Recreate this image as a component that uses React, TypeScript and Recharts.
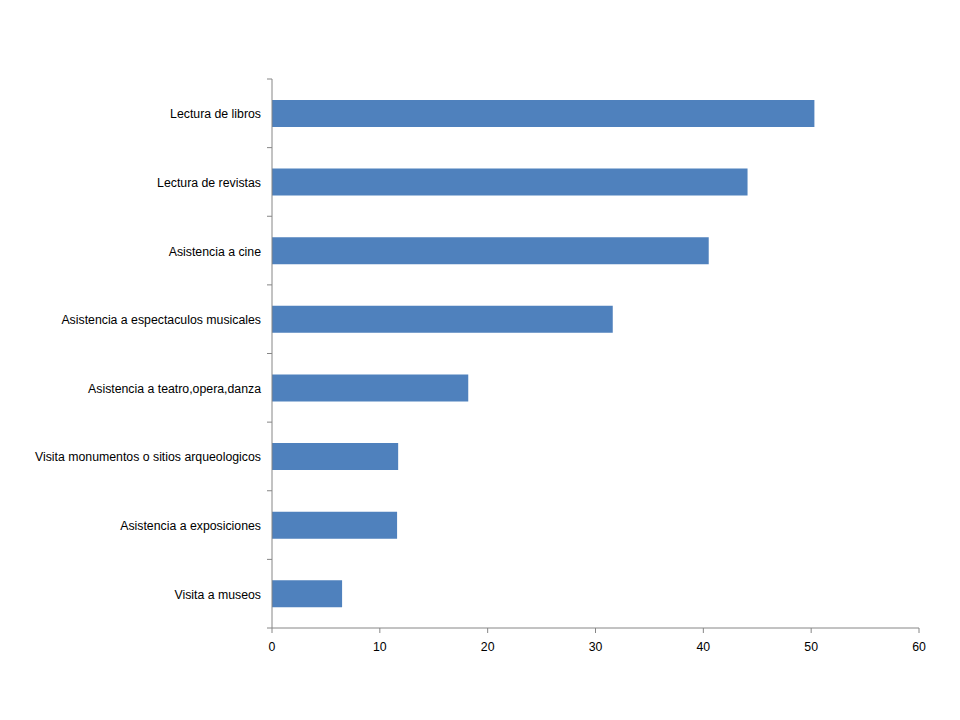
import React from "react";
import { BarChart, Bar, XAxis, YAxis } from "recharts";

const categories = [
  "Lectura de libros",
  "Lectura de revistas",
  "Asistencia a cine",
  "Asistencia a espectaculos musicales",
  "Asistencia a teatro,opera,danza",
  "Visita monumentos o sitios arqueologicos",
  "Asistencia a exposiciones",
  "Visita a museos",
];
const values = [50.3, 44.1, 40.5, 31.6, 18.2, 11.7, 11.6, 6.5];
const xTicks = [0, 10, 20, 30, 40, 50, 60];

const data = categories.map((name, i) => ({ name, value: values[i] }));

const W = 960;
const H = 720;
const M = { top: 71, right: 49, left: 0, bottom: 70 };
const X_AXIS_H = 30;
const Y_AXIS_W = 264;
const PLOT_H = H - M.top - M.bottom - X_AXIS_H;
const HALF_BAND = PLOT_H / categories.length / 2;
const AXIS_COLOR = "#868686";
const FONT = "'Liberation Sans', Arial, sans-serif";

const CatTick = (props: any) => {
  const { x, y, payload, index } = props;
  const ax = x + 8;
  return (
    <g>
      {index === 0 && (
        <line x1={ax - 5} x2={ax} y1={y - HALF_BAND} y2={y - HALF_BAND} stroke={AXIS_COLOR} />
      )}
      <line x1={ax - 5} x2={ax} y1={y + HALF_BAND} y2={y + HALF_BAND} stroke={AXIS_COLOR} />
      <text x={x - 3} y={y} dy={5} textAnchor="end" fill="#000" fontSize={12.3} fontFamily={FONT}>
        {payload.value}
      </text>
    </g>
  );
};

const NumTick = (props: any) => {
  const { x, y, payload } = props;
  return (
    <text x={x} y={y} dy={16} textAnchor="middle" fill="#000" fontSize={12.3} fontFamily={FONT}>
      {payload.value}
    </text>
  );
};

export default function App() {
  return (
    <BarChart width={W} height={H} data={data} layout="vertical" margin={M} barCategoryGap="30.5%">
      <XAxis
        type="number"
        domain={[0, 60]}
        ticks={xTicks}
        interval={0}
        height={X_AXIS_H}
        stroke={AXIS_COLOR}
        tickSize={5}
        tick={<NumTick />}
      />
      <YAxis
        type="category"
        dataKey="name"
        width={Y_AXIS_W}
        stroke={AXIS_COLOR}
        tickLine={false}
        interval={0}
        tick={<CatTick />}
      />
      <Bar dataKey="value" fill="#4F81BD" isAnimationActive={false} />
    </BarChart>
  );
}
